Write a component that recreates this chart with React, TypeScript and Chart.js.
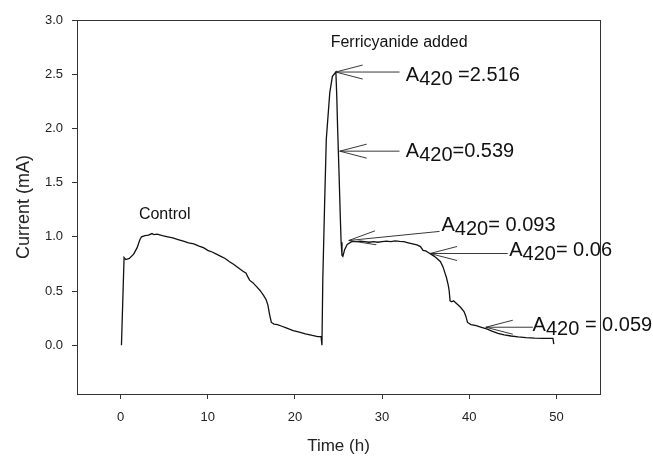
import React, { useEffect, useRef } from "react";
import { Chart, registerables } from "chart.js";

Chart.register(...registerables);

// ---- data ----
const timeH = [
  0.1, 0.4, 0.6, 1.0, 1.5, 1.9, 2.2, 2.4, 2.8, 3.2, 3.6, 3.8, 4.2, 4.8, 5.4, 6.0, 6.6, 7.2, 7.8, 8.4,
  9.0, 9.5, 10.0, 10.5, 11.0, 11.5, 12.0, 12.5, 13.0, 13.5, 14.0, 14.4, 14.6, 14.8, 15.2, 15.6, 16.0,
  16.4, 16.7, 16.9, 17.1, 17.3, 17.6, 18.0, 18.5, 19.0, 19.8, 20.5, 21.2, 22.0, 22.6, 23.0, 23.1,
  23.2, 23.4, 23.6, 24.0, 24.3, 24.7, 24.8, 24.9, 25.06, 25.2, 25.3, 25.4, 25.5, 25.7, 26.0, 26.5,
  27.0, 27.5, 28.0, 28.5, 29.0, 29.5, 30.0, 30.5, 31.0, 31.5, 32.0, 32.5, 33.0, 33.5, 34.0, 34.4,
  34.7, 35.0, 35.3, 35.6, 36.0, 36.3, 36.7, 37.0, 37.2, 37.4, 37.6, 37.7, 37.8, 38.0, 38.2, 38.6,
  39.0, 39.4, 39.6, 39.8, 40.2, 40.8, 41.4, 42.0, 42.6, 43.3, 44.0, 44.8, 45.6, 46.5, 47.5, 48.5,
  49.6, 49.7,
];
const currentMA = [
  0.0, 0.81, 0.79, 0.8, 0.84, 0.9, 0.97, 1.0, 1.01, 1.015, 1.03, 1.02, 1.025, 1.01, 1.0, 0.99, 0.975,
  0.96, 0.945, 0.935, 0.915, 0.9, 0.875, 0.86, 0.84, 0.82, 0.8, 0.77, 0.745, 0.715, 0.685, 0.665,
  0.63, 0.6, 0.575, 0.54, 0.505, 0.46, 0.42, 0.37, 0.28, 0.21, 0.195, 0.19, 0.175, 0.16, 0.135, 0.12,
  0.105, 0.09, 0.08, 0.08, 0.0,
  0.61, 1.28, 1.9, 2.33, 2.48, 2.52, 2.3, 2.0, 1.59, 1.2, 0.95, 0.83, 0.82, 0.88, 0.93, 0.955,
  0.955, 0.96, 0.955, 0.95, 0.955, 0.95, 0.955, 0.96, 0.955, 0.962, 0.958, 0.955, 0.945, 0.935,
  0.925, 0.91, 0.875, 0.87, 0.855, 0.84, 0.82, 0.8, 0.77, 0.72, 0.67, 0.62, 0.55, 0.5, 0.41, 0.4,
  0.41, 0.38, 0.35, 0.31, 0.27, 0.21, 0.19, 0.18, 0.165, 0.15, 0.13, 0.11, 0.095, 0.085, 0.077,
  0.07, 0.066, 0.064, 0.063, 0.01,
];

const xTickValues = [0, 10, 20, 30, 40, 50];
const yTickValues = [0, 0.5, 1.0, 1.5, 2.0, 2.5, 3.0];

// annotation arrows (data units)
const arrowTipX = [24.68, 25.14, 26.18, 35.5, 41.9];
const arrowTipY = [2.52, 1.79, 0.966, 0.846, 0.166];
const arrowTailX = [32.0, 32.0, 36.6, 44.4, 47.3];
const arrowTailY = [2.52, 1.79, 1.05, 0.846, 0.166];
// A420 labels (text start, baseline, data units)
const labelX = [32.72, 32.72, 36.82, 44.58, 47.27];
const labelY = [2.438, 1.739, 1.049, 0.819, 0.129];
const labelMain = ["A", "A", "A", "A", "A"];
const labelSub = ["420", "420", "420", "420", "420"];
const labelRest = [" =2.516", "=0.539", "= 0.093", "= 0.06", " = 0.059"];
// plain text notes
const noteText = ["Control", "Ferricyanide added"];
const noteX = [2.1, 24.1];
const noteY = [1.166, 2.75];

const FONT = "'Liberation Sans', Arial, Helvetica, sans-serif";

const annotationPlugin = {
  id: "annotations",
  afterDatasetsDraw(chart: any) {
    const { ctx, chartArea: a, scales } = chart;
    const xs = scales.x;
    const ys = scales.y;
    ctx.save();
    // frame
    ctx.strokeStyle = "#333";
    ctx.lineWidth = 1;
    ctx.strokeRect(Math.round(a.left) + 0.5, Math.round(a.top) + 0.5, Math.round(a.right - a.left), Math.round(a.bottom - a.top));

    // arrows
    ctx.strokeStyle = "#222";
    ctx.lineWidth = 0.9;
    for (let i = 0; i < arrowTipX.length; i++) {
      const tx = xs.getPixelForValue(arrowTipX[i]);
      const ty = ys.getPixelForValue(arrowTipY[i]);
      const ex = xs.getPixelForValue(arrowTailX[i]);
      const ey = ys.getPixelForValue(arrowTailY[i]);
      const len = Math.hypot(ex - tx, ey - ty);
      const dx = (ex - tx) / len;
      const dy = (ey - ty) / len;
      const nx = -dy;
      const ny = dx;
      const hl = 27;
      const hw = 7;
      ctx.beginPath();
      ctx.moveTo(tx, ty);
      ctx.lineTo(ex, ey);
      ctx.moveTo(tx + dx * hl + nx * hw, ty + dy * hl + ny * hw);
      ctx.lineTo(tx, ty);
      ctx.lineTo(tx + dx * hl - nx * hw, ty + dy * hl - ny * hw);
      ctx.stroke();
    }

    // labels
    ctx.fillStyle = "#111";
    ctx.textBaseline = "alphabetic";
    ctx.textAlign = "left";
    ctx.font = `20px ${FONT}`;
    for (let i = 0; i < labelX.length; i++) {
      let px = xs.getPixelForValue(labelX[i]);
      const py = ys.getPixelForValue(labelY[i]);
      ctx.fillText(labelMain[i], px, py);
      px += ctx.measureText(labelMain[i]).width;
      ctx.fillText(labelSub[i], px, py + 4);
      px += ctx.measureText(labelSub[i]).width;
      ctx.fillText(labelRest[i], px, py);
    }

    ctx.font = `16px ${FONT}`;
    for (let i = 0; i < noteText.length; i++) {
      ctx.fillText(noteText[i], xs.getPixelForValue(noteX[i]), ys.getPixelForValue(noteY[i]));
    }
    ctx.restore();
  },
};

export default function App() {
  const ref = useRef<HTMLCanvasElement | null>(null);
  useEffect(() => {
    if (!ref.current) return;
    const points = timeH.map((t, i) => ({ x: t, y: currentMA[i] }));
    const chart = new Chart(ref.current, {
      type: "line",
      data: {
        datasets: [
          {
            data: points,
            borderColor: "#111",
            borderWidth: 1.3,
            pointRadius: 0,
            tension: 0,
            fill: false,
          },
        ],
      },
      options: {
        animation: false,
        responsive: false,
        events: [],
        layout: { padding: { top: 20, right: 53, left: 0, bottom: 0 } },
        plugins: { legend: { display: false }, tooltip: { enabled: false } },
        scales: {
          x: {
            type: "linear",
            min: -5,
            max: 55,
            afterBuildTicks: (s: any) => {
              s.ticks = xTickValues.map((v) => ({ value: v }));
            },
            afterFit: (s: any) => {
              s.height = 63;
            },
            grid: { display: true, drawOnChartArea: false, drawTicks: true, tickLength: 5, color: "#333" },
            border: { display: true, color: "#333" },
            ticks: { color: "#222", font: { size: 13, family: FONT }, padding: 11, maxRotation: 0, callback: (v: any) => String(v) },
            title: { display: true, text: "Time (h)", color: "#222", font: { size: 17, family: FONT }, padding: { top: 0, bottom: 0 } },
          },
          y: {
            type: "linear",
            min: -0.45,
            max: 3.0,
            afterBuildTicks: (s: any) => {
              s.ticks = yTickValues.map((v) => ({ value: v }));
            },
            afterFit: (s: any) => {
              s.width = 77;
            },
            grid: { display: true, drawOnChartArea: false, drawTicks: true, tickLength: 5, color: "#333" },
            border: { display: true, color: "#333" },
            ticks: { color: "#222", font: { size: 13, family: FONT }, padding: 9, callback: (v: any) => Number(v).toFixed(1) },
            title: { display: true, text: "Current (mA)", color: "#222", font: { size: 18, family: FONT }, padding: { top: 13, bottom: 0 } },
          },
        },
      },
      plugins: [annotationPlugin],
    } as any);
    return () => chart.destroy();
  }, []);
  return (
    <div style={{ position: "absolute", left: 0, top: 0, width: 653, height: 457, background: "#fff" }}>
      <canvas ref={ref} width={653} height={457} style={{ display: "block" }} />
    </div>
  );
}
